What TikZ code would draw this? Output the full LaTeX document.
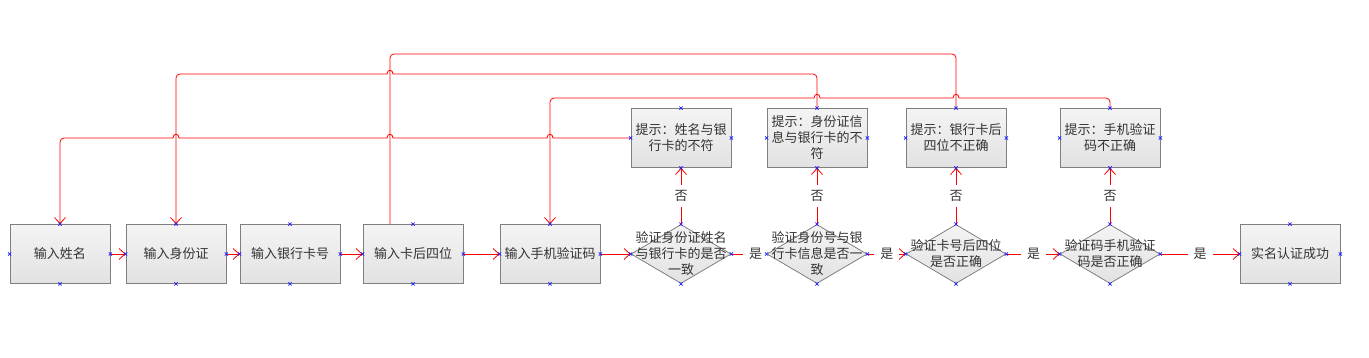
\documentclass[tikz,border=0pt]{standalone}
\usepackage{fontspec}
\setmainfont{Noto Sans CJK SC}
\usetikzlibrary{arrows.meta,shapes.geometric}
\definecolor{boxgray}{HTML}{7F7F7F}
\definecolor{filltop}{HTML}{F4F4F4}
\definecolor{fillbot}{HTML}{E2E2E2}
\definecolor{txt}{HTML}{333333}
\definecolor{mkblue}{HTML}{2020FF}
\newcommand\dfont{\fontsize{13pt}{16pt}\selectfont}
\begin{document}
\begin{tikzpicture}[x=1pt,y=-1pt,
  shapebase/.style={draw=boxgray, line width=0.8pt, top color=filltop, bottom color=fillbot, inner sep=0pt},
  box/.style={shapebase, rectangle, minimum width=100pt, minimum height=59pt, align=center, font=\dfont, text=txt},
  dia/.style={shapebase, diamond, minimum width=100pt, minimum height=59pt},
  dtext/.style={align=center, font=\dfont, text=txt, inner sep=0pt},
  fl/.style={draw=red, line width=0.8pt, -{Straight Barb[length=6pt,width=11pt]}},
  fb/.style={draw=red, line width=0.8pt},
  lbl/.style={fill=white, font=\dfont, text=txt, inner xsep=6pt, inner ysep=5pt},
  mk/.style={draw=mkblue, line width=0.7pt}
]
\useasboundingbox (0,0) rectangle (1369,357);

% bottom row
\node[box] (b1) at (60,254) {输入姓名};
\node[box] (b2) at (176,254) {输入身份证};
\node[box] (b3) at (290,254) {输入银行卡号};
\node[box] (b4) at (413,254) {输入卡后四位};
\node[box] (b5) at (550,254) {输入手机验证码};
\node[dia] (d1) at (681,254) {};
\node[dtext] (d1t) at (681,254) {验证身份证姓名\\与银行卡的是否\\一致};
\node[dia] (d2) at (817,254) {};
\node[dtext] (d2t) at (817,254) {验证身份号与银\\行卡信息是否一\\致};
\node[dia] (d3) at (956,254) {};
\node[dtext] (d3t) at (956,254) {验证卡号后四位\\是否正确};
\node[dia] (d4) at (1110,254) {};
\node[dtext] (d4t) at (1110,254) {验证码手机验证\\码是否正确};
\node[box] (ok) at (1290,254) {实名认证成功};

% tip row
\node[box] (t1) at (681,138) {提示：姓名与银\\行卡的不符};
\node[box] (t2) at (817,138) {提示：身份证信\\息与银行卡的不\\符};
\node[box] (t3) at (956,138) {提示：银行卡后\\四位不正确};
\node[box] (t4) at (1110,138) {提示：手机验证\\码不正确};

% main flow
\draw[fl] (b1.east) -- (b2.west);
\draw[fl] (b2.east) -- (b3.west);
\draw[fl] (b3.east) -- (b4.west);
\draw[fl] (b4.east) -- (b5.west);
\draw[fl] (b5.east) -- (d1.west);
\draw[fl] (d1.east) -- node[lbl, pos=0.69] {是} (d2.west);
\draw[fl] (d2.east) -- node[lbl, pos=0.51] {是} (d3.west);
\draw[fl] (d3.east) -- node[lbl, pos=0.51] {是} (d4.west);
\draw[fl] (d4.east) -- node[lbl, pos=0.5] {是} (ok.west);

% no branches
\draw[fl] (d1.north) -- node[lbl] {否} (t1.south);
\draw[fl] (d2.north) -- node[lbl] {否} (t2.south);
\draw[fl] (d3.north) -- node[lbl] {否} (t3.south);
\draw[fl] (d4.north) -- node[lbl] {否} (t4.south);

% feedback A: t1 -> b1
\draw[fl] (t1.west) -- (553,138) .. controls (553,133) and (547,133) .. (547,138)
  -- (393,138) .. controls (393,133) and (387,133) .. (387,138)
  -- (179,138) .. controls (179,133) and (173,133) .. (173,138)
  -- (120,138) [rounded corners=4pt] -- (60,138) -- (b1.north);

% feedback B: t2 -> b2
\draw[fl] (t2.north) [rounded corners=4pt] -- (817,74) -- (500,74) [sharp corners]
  -- (393,74) .. controls (393,69) and (387,69) .. (387,74)
  -- (300,74) [rounded corners=4pt] -- (176,74) -- (b2.north);

% feedback C: b4 -- t3 (no arrowheads)
\draw[fb, rounded corners=4pt] ([xshift=-23pt]b4.north) -- (390,54) -- (956,54) -- (t3.north);

% feedback D: t4 -> b5
\draw[fl] (t4.north) [rounded corners=4pt] -- (1110,98) -- (1000,98) [sharp corners]
  -- (959,98) .. controls (959,93) and (953,93) .. (953,98)
  -- (820,98) .. controls (820,93) and (814,93) .. (814,98)
  -- (700,98) [rounded corners=4pt] -- (550,98) -- (b5.north);

% connection point markers
\foreach \n in {b1,b2,b3,b4,b5,d1,d2,d3,d4,ok,t1,t2,t3,t4}{
  \foreach \a in {north,south,east,west}{
    \draw[mk] (\n.\a) ++(-1.6,-1.6) -- ++(3.2,3.2) ++(-3.2,0) -- ++(3.2,-3.2);
  }
}
\end{tikzpicture}
\end{document}
